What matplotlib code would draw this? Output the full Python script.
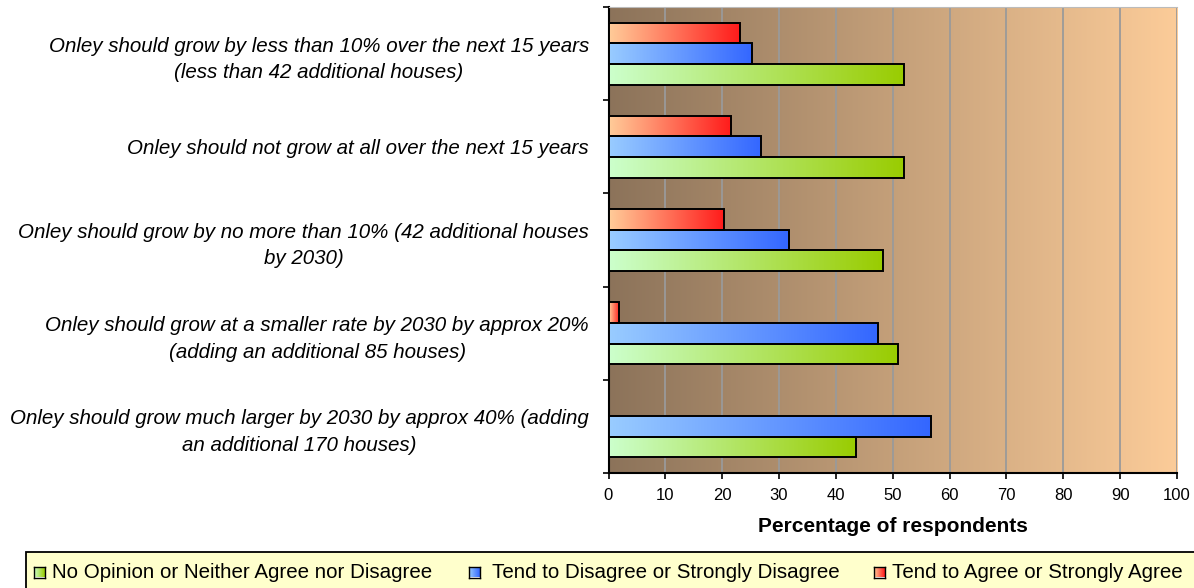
import numpy as np
import matplotlib
matplotlib.use("Agg")
import matplotlib.pyplot as plt
from matplotlib.colors import LinearSegmentedColormap
from matplotlib.patches import Rectangle

# statements, listed top to bottom as they appear on the chart
statements = [
    "Onley should grow by less than 10% over the next 15 years\n(less than 42 additional houses)",
    "Onley should not grow at all over the next 15 years",
    "Onley should grow by no more than 10% (42 additional houses\nby 2030)",
    "Onley should grow at a smaller rate by 2030 by approx 20%\n(adding an additional 85 houses)",
    "Onley should grow much larger by 2030 by approx 40% (adding\nan additional 170 houses)",
]
no_opinion = [52.0, 52.0, 48.2, 51.0, 43.5]
disagree = [25.2, 26.9, 31.7, 47.4, 56.7]
agree = [23.2, 21.5, 20.4, 1.8, 0.0]

series_names = [
    "No Opinion or Neither Agree nor Disagree",
    "Tend to Disagree or Strongly Disagree",
    "Tend to Agree or Strongly Agree",
]
x_ticks = list(range(0, 101, 10))

W, H = 1194, 588
FONT = "Liberation Sans"

green_cm = LinearSegmentedColormap.from_list("g", ["#CCFFCC", "#99CC00"])
blue_cm = LinearSegmentedColormap.from_list("b", ["#99CCFF", "#3366FF"])
red_cm = LinearSegmentedColormap.from_list("r", ["#FFCC99", "#FF1A1A"])
bg_cm = LinearSegmentedColormap.from_list("bg", ["#8C735A", "#FCCC99"])

fig = plt.figure(figsize=(W / 100, H / 100), dpi=100)
ax = fig.add_axes([608.5 / W, 1 - 473 / H, (1177 - 608.5) / W, (473 - 7) / H])

grad = np.linspace(0, 1, 256)[None, :]
n = len(statements)
centers = np.arange(n)[::-1]  # first statement on top
bh = 0.222

# plot area background gradient
ax.imshow(grad, cmap=bg_cm, extent=[0, 100, -0.5, n - 0.5], aspect="auto", zorder=0)

series = [
    (no_opinion, green_cm, -bh),
    (disagree, blue_cm, 0.0),
    (agree, red_cm, bh),
]
for values, cm, off in series:
    ys = centers + off
    for y, v in zip(ys, values):
        if v <= 0:
            continue
        ax.imshow(grad, cmap=cm, extent=[0, v, y - bh / 2, y + bh / 2],
                  aspect="auto", zorder=3, interpolation="bilinear")
    ax.barh(ys, values, height=bh, fill=False, edgecolor="black", linewidth=1.4, zorder=4)

ax.set_xlim(0, 100)
ax.set_ylim(-0.5, n - 0.5)
ax.set_aspect("auto")

ax.set_axisbelow(True)
ax.xaxis.grid(True, color="#9A9A9A", linewidth=1.3)
ax.set_xticks(x_ticks)
ax.set_xticklabels([str(t) for t in x_ticks], fontsize=12, family=FONT)
ax.tick_params(axis="x", length=4, width=1.2, pad=7)

ax.set_yticks(np.arange(-0.5, n, 1.0))
ax.set_yticklabels([])
ax.set_yticks(centers, minor=True)
ax.set_yticklabels(statements, minor=True, fontsize=14.8, family=FONT,
                   style="italic", multialignment="center", linespacing=1.5)
ax.tick_params(axis="y", which="major", length=4, width=1.2)
ax.tick_params(axis="y", which="minor", length=0, pad=14)

for side in ("left", "bottom"):
    ax.spines[side].set_color("black")
    ax.spines[side].set_linewidth(1.5)
ax.spines["top"].set_color("#BBBBBB")
ax.spines["right"].set_visible(False)

ax.set_xlabel("Percentage of respondents", fontsize=15, family=FONT,
              fontweight="bold", labelpad=10)

# legend box, running off the bottom and right edges like the original
fig.add_artist(Rectangle((26 / W, 1 - 620 / H), (1230 - 26) / W, (620 - 552) / H,
                         transform=fig.transFigure, facecolor="#FFFFCC",
                         edgecolor="black", linewidth=1.3, clip_on=False, zorder=-1))
leg_cmaps = [green_cm, blue_cm, red_cm]
sq_x = [34, 469, 874]
txt_x = [52, 492, 892]
for name, cm, sx, tx in zip(series_names, leg_cmaps, sq_x, txt_x):
    # small gradient swatch, like the bars
    sw = fig.add_axes([sx / W, 1 - 577.5 / H, 11 / W, 11 / H])
    sw.set_zorder(5)
    sw.imshow(grad, cmap=cm, aspect="auto", extent=[0, 1, 0, 1])
    sw.set_xticks([])
    sw.set_yticks([])
    for sp in sw.spines.values():
        sp.set_linewidth(1.0)
        sp.set_color("black")
    fig.text(tx / W, 1 - 572 / H, name, fontsize=14.8, family=FONT, va="center")

fig.savefig("out.png", dpi=100)
